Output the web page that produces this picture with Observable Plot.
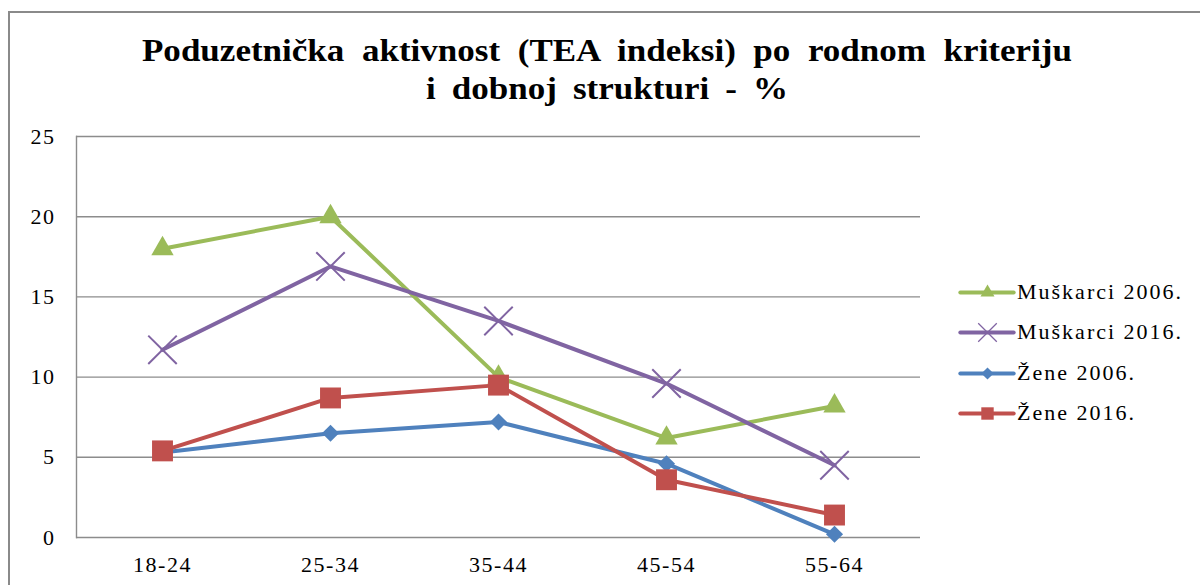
<!DOCTYPE html>
<html>
<head>
<meta charset="utf-8">
<script src="https://cdn.jsdelivr.net/npm/d3@7"></script>
<script src="https://cdn.jsdelivr.net/npm/@observablehq/plot@0.6"></script>
<style>
  html, body { margin: 0; padding: 0; background: #fff; }
  body { width: 1200px; height: 585px; overflow: hidden; position: relative; font-family: "Liberation Serif", "Times New Roman", serif; }
  #frame { position: absolute; left: 8px; top: 11px; width: 1300px; height: 700px; border-left: 2px solid #8a8a8a; border-top: 2px solid #8a8a8a; }
  #title { position: absolute; left: 14px; width: 1186px; top: 32px; text-align: center; font-weight: bold; font-size: 31px; line-height: 38px; color: #000; transform: scaleX(1.13); transform-origin: 50% 50%; }
  #title .l1 { word-spacing: 7.8px; }
  #title .l2 { word-spacing: 6.5px; }
  #chart { position: absolute; left: 0; top: 120px; }
  #chart svg text { letter-spacing: 1.5px; }
  #legend { position: absolute; left: 958px; top: 272px; font-size: 22px; letter-spacing: 2px; color: #000; }
  .item { display: flex; align-items: center; height: 40.3px; }
  .item svg { margin-right: 1px; }
</style>
</head>
<body>
<div id="frame"></div>
<div id="title"><span class="l1">Poduzetnička aktivnost (TEA indeksi) po rodnom kriteriju</span><br><span class="l2">i dobnoj strukturi - %</span></div>
<div id="chart"></div>
<div id="legend"></div>
<script>
const ages = ["18-24", "25-34", "35-44", "45-54", "55-64"];
const seriesNames = ["Muškarci 2006.", "Muškarci 2016.", "Žene 2006.", "Žene 2016."];
const muskarci2006 = [18.0, 20.0, 10.0, 6.2, 8.2];
const muskarci2016 = [11.7, 16.9, 13.5, 9.6, 4.5];
const zene2006 = [5.3, 6.5, 7.2, 4.6, 0.2];
const zene2016 = [5.4, 8.7, 9.5, 3.6, 1.4];
const yTicks = [0, 5, 10, 15, 20, 25];

const colors = ["#9BBB59", "#8064A2", "#4F81BD", "#C0504D"];
const symbols = ["triangle", "times", "diamond2", "square"];
const radii = [8.3, 13, 7.7, 11.8];
const legendRadii = [5.2, 8.5, 5.5, 7];
const seriesValues = [muskarci2006, muskarci2016, zene2006, zene2016];

const rows = [];
seriesNames.forEach((s, i) => seriesValues[i].forEach((v, j) => rows.push({series: s, age: ages[j], value: v})));

const marks = [
  Plot.ruleY(yTicks, {stroke: "#8c8c8c", strokeWidth: 1.4}),
  Plot.frame({anchor: "left", stroke: "#8c8c8c", strokeWidth: 1.4}),
  Plot.axisY(yTicks, {tickSize: 0, tickPadding: 21, fontSize: 22, fill: "#000"}),
  Plot.axisX({tickSize: 0, tickPadding: 19, fontSize: 22, fill: "#000"})
];
seriesNames.forEach((s, i) => {
  const data = rows.filter(d => d.series === s);
  marks.push(Plot.line(data, {x: "age", y: "value", stroke: colors[i], strokeWidth: 4}));
});
seriesNames.forEach((s, i) => {
  const data = rows.filter(d => d.series === s);
  const isStroke = symbols[i] === "times";
  marks.push(Plot.dot(data, {
    x: "age", y: "value", symbol: () => symbols[i], r: radii[i],
    fill: isStroke ? "none" : colors[i],
    stroke: colors[i], strokeWidth: isStroke ? 2 : 0
  }));
});

const chart = Plot.plot({
  width: 930,
  height: 465,
  marginLeft: 76,
  marginRight: 10,
  marginTop: 16,
  marginBottom: 48,
  style: {fontFamily: "'Liberation Serif', serif", background: "transparent", overflow: "visible"},
  x: {type: "point", domain: ages, padding: 0.5, label: null},
  y: {domain: [0, 25], label: null},
  symbol: {type: "identity"},
  marks
});
document.getElementById("chart").appendChild(chart);

// legend
const legend = document.getElementById("legend");
seriesNames.forEach((s, i) => {
  const item = document.createElement("div");
  item.className = "item";
  const isStroke = symbols[i] === "times";
  const sw = Plot.plot({
    width: 58, height: 30, margin: 0,
    x: {domain: [0, 1], axis: null},
    y: {domain: [0, 1], axis: null},
    symbol: {type: "identity"},
    style: {background: "transparent", overflow: "visible"},
    marks: [
      Plot.ruleY([0.5], {x1: 0.04, x2: 0.96, stroke: colors[i], strokeWidth: 4, strokeLinecap: "round"}),
      Plot.dot([0.5], {x: d => d, y: 0.5, symbol: () => symbols[i], r: legendRadii[i],
        fill: isStroke ? "none" : colors[i], stroke: colors[i], strokeWidth: isStroke ? 1.3 : 0})
    ]
  });
  item.appendChild(sw);
  const label = document.createElement("span");
  label.textContent = s;
  item.appendChild(label);
  legend.appendChild(item);
});
</script>
</body>
</html>
